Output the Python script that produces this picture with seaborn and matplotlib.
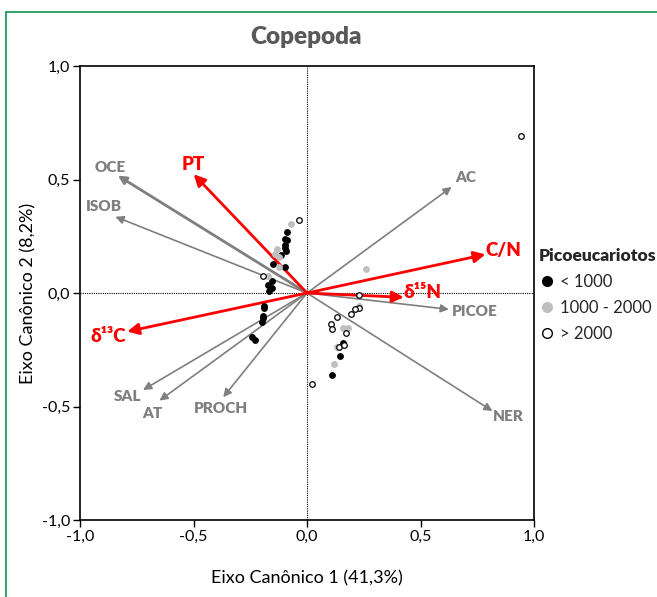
import matplotlib
matplotlib.use("Agg")
import matplotlib.pyplot as plt
from matplotlib.lines import Line2D
import seaborn as sns
import pandas as pd

# Sample scores on the first two canonical axes, grouped by picoeukaryote abundance
low_x = [-0.090, -0.095, -0.089, -0.098, -0.095, -0.092, -0.115, -0.151, -0.098, -0.156,
         -0.171, -0.152, -0.168, -0.190, -0.190, -0.193, -0.196, -0.200, -0.241, -0.227,
         0.159, 0.145, 0.108]
low_y = [0.267, 0.237, 0.232, 0.211, 0.197, 0.186, 0.166, 0.128, 0.113, 0.054,
         0.035, 0.023, 0.009, -0.056, -0.067, -0.101, -0.111, -0.129, -0.193, -0.207,
         -0.222, -0.276, -0.361]
mid_x = [-0.070, -0.131, -0.142, -0.124, -0.124, -0.171, 0.261, 0.227, 0.158, 0.180, 0.130, 0.118]
mid_y = [0.304, 0.193, 0.170, 0.160, 0.116, 0.076, 0.107, -0.059, -0.156, -0.153, -0.238, -0.314]
high_x = [-0.036, -0.195, 0.230, 0.228, 0.211, 0.192, 0.133, 0.105, 0.111, 0.171, 0.139, 0.164, 0.024, 0.941]
high_y = [0.322, 0.076, -0.009, -0.065, -0.070, -0.094, -0.107, -0.135, -0.159, -0.178, -0.238, -0.229, -0.402, 0.693]

groups = ["< 1000", "1000 - 2000", "> 2000"]

# Environmental vectors (gray) and isotope/stoichiometry vectors (red)
env_names = ["OCE", "ISOB", "AC", "PICOE", "NER", "SAL", "AT", "PROCH"]
env_x = [-0.833, -0.844, 0.637, 0.625, 0.817, -0.722, -0.650, -0.369]
env_y = [0.517, 0.336, 0.467, -0.072, -0.520, -0.427, -0.474, -0.459]
iso_names = ["PT", "C/N", "δ¹⁵N", "δ¹³C"]
iso_x = [-0.499, 0.786, 0.426, -0.792]
iso_y = [0.523, 0.170, -0.019, -0.170]

tick_values = [-1.0, -0.5, 0.0, 0.5, 1.0]
tick_labels = ["-1,0", "-0,5", "0,0", "0,5", "1,0"]

# Where each vector name sits (data coordinates)
label_at = {
    "OCE": (-0.869, 0.552), "ISOB": (-0.895, 0.380), "AC": (0.698, 0.507),
    "PICOE": (0.740, -0.082), "NER": (0.888, -0.546), "SAL": (-0.792, -0.454),
    "AT": (-0.682, -0.530), "PROCH": (-0.381, -0.508),
    "PT": (-0.499, 0.566), "C/N": (0.866, 0.189), "δ¹⁵N": (0.510, 0.003), "δ¹³C": (-0.874, -0.190),
}

sns.set_style("ticks")
plt.rcParams["font.family"] = ["Lato", "DejaVu Sans"]

GRAY = "#7f7f7f"
RED = "#ff0000"
FILL = {"< 1000": "black", "1000 - 2000": "#bfbfbf", "> 2000": "white"}
EDGE = {"< 1000": "black", "1000 - 2000": "#bfbfbf", "> 2000": "black"}

fig = plt.figure(figsize=(6.57, 5.97), dpi=100)
ax = fig.add_axes([80 / 657, 1 - 520 / 597, 454 / 657, 454 / 597])

# Reference lines through the origin
ax.axhline(0, color="black", lw=0.8, ls=(0, (1, 1)), zorder=1)
ax.axvline(0, color="black", lw=0.8, ls=(0, (1, 1)), zorder=1)

# Vectors
for n, x, y in zip(env_names, env_x, env_y):
    lw = 2.0 if n == "OCE" else 1.2
    ax.annotate("", xy=(x, y), xytext=(0, 0),
                arrowprops=dict(arrowstyle="-|>", color=GRAY, lw=lw, mutation_scale=12,
                                shrinkA=0, shrinkB=0), zorder=2)
    lx, ly = label_at[n]
    ax.text(lx, ly, n, color=GRAY, fontsize=11, fontweight="heavy", ha="center", va="center")

for n, x, y in zip(iso_names, iso_x, iso_y):
    ax.annotate("", xy=(x, y), xytext=(0, 0),
                arrowprops=dict(arrowstyle="-|>", color=RED, lw=2.0, mutation_scale=17,
                                shrinkA=0, shrinkB=0), zorder=3)
    lx, ly = label_at[n]
    ax.text(lx, ly, n, color=RED, fontsize=13.5, fontweight="heavy", ha="center", va="center")

# Sample points
df = pd.concat([
    pd.DataFrame({"x": low_x, "y": low_y, "grupo": groups[0]}),
    pd.DataFrame({"x": mid_x, "y": mid_y, "grupo": groups[1]}),
    pd.DataFrame({"x": high_x, "y": high_y, "grupo": groups[2]}),
])
for g in groups:
    sub = df[df["grupo"] == g]
    sns.scatterplot(data=sub, x="x", y="y", ax=ax, color=FILL[g], edgecolor=EDGE[g],
                    linewidth=0.9, s=16, zorder=4, legend=False)

ax.set_xlim(-1, 1)
ax.set_ylim(-1, 1)
ax.set_xticks(tick_values)
ax.set_xticklabels(tick_labels)
ax.set_yticks(tick_values)
ax.set_yticklabels(tick_labels)
ax.tick_params(direction="out", length=5, width=1, labelsize=11.5, colors="black", pad=2)
for s in ax.spines.values():
    s.set_color("black")
    s.set_linewidth(1.2)
ax.set_xlabel("")
ax.set_ylabel("")

fig.text(306 / 657, 1 - 37 / 597, "Copepoda", ha="center", va="center",
         fontsize=17.5, fontweight="heavy", color="#595959")
fig.text(307 / 657, 1 - 578 / 597, "Eixo Canônico 1 (41,3%)", ha="center", va="center",
         fontsize=13, color="black")
fig.text(28 / 657, 1 - 293 / 597, "Eixo Canônico 2 (8,2%)", ha="center", va="center",
         fontsize=13, color="black", rotation=90)

handles = [Line2D([], [], ls="", marker="o", markersize=7, markerfacecolor=FILL[g],
                  markeredgecolor=EDGE[g], markeredgewidth=1.0, label=g) for g in groups]
leg = fig.legend(handles=handles, title="Picoeucariotos", loc="upper left",
                 bbox_to_anchor=(532 / 657, 1 - 241 / 597), frameon=False,
                 fontsize=12, handletextpad=0.3, handlelength=1.0, labelspacing=0.6,
                 borderaxespad=0, alignment="left")
leg.get_title().set_fontweight("heavy")
leg.get_title().set_fontsize(12.5)

# Green frame around the figure panel
fig.add_artist(Line2D([6 / 657, 6 / 657], [0, 1 - 12 / 597], transform=fig.transFigure,
                      color="#1e9b5b", lw=1.3))
fig.add_artist(Line2D([6 / 657, 1], [1 - 12 / 597, 1 - 12 / 597], transform=fig.transFigure,
                      color="#1e9b5b", lw=1.3))

fig.savefig("out.png", dpi=100)
